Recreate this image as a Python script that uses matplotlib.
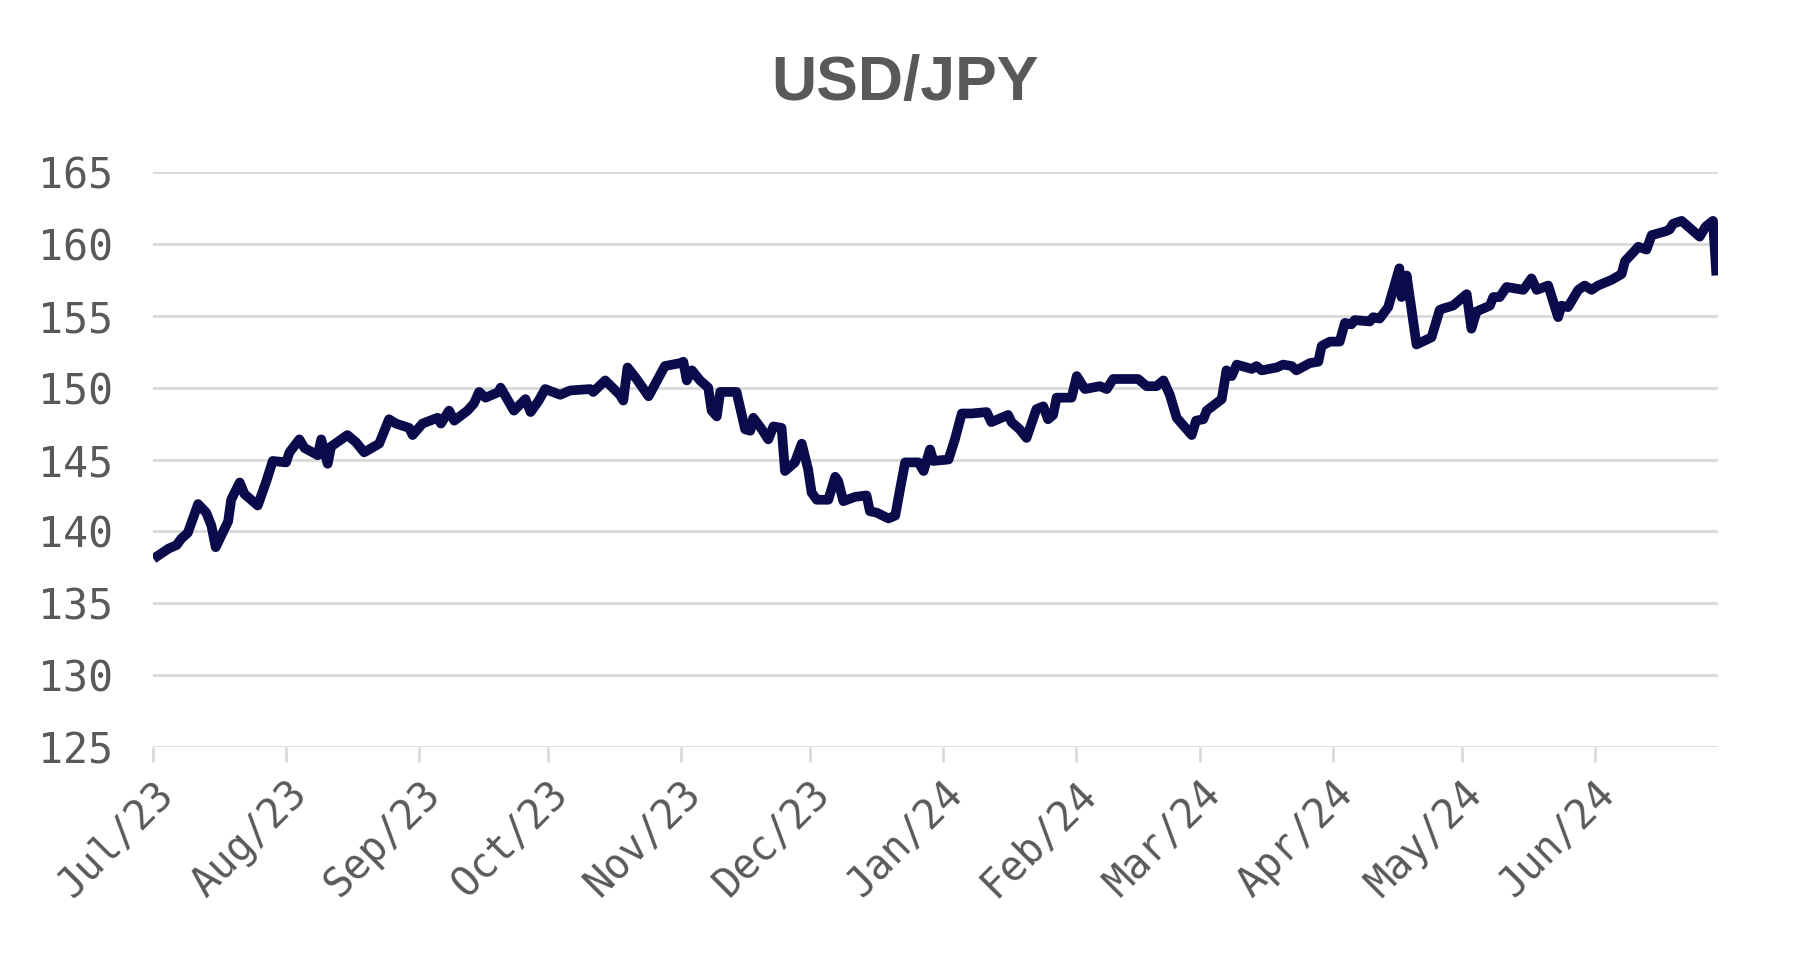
import pandas as pd
import matplotlib
matplotlib.use("Agg")
import matplotlib.pyplot as plt
import matplotlib.dates as mdates

# days since 1 Jul 2023
days = [
    0, 3.5, 5.4, 6.5, 8.0, 10.4, 12.3, 13.5, 14.5, 17.4, 18.1, 20.1, 21.2, 24.3,
    26.2, 27.8, 30.9, 31.7, 34.0, 35.2, 38.3, 39.1, 40.6, 41.4, 45.2, 47.2, 49.1,
    52.6, 54.9, 56.5, 59.6, 60.4, 62.7, 66.2, 67.0, 68.9, 70.1, 73.2, 74.7, 75.9,
    77.4, 80.5, 80.9, 84.0, 86.7, 87.9, 89.8,
    91.3, 94.8, 97.1, 101.8, 102.5, 105.3, 108.7, 109.5, 110.5, 112.6, 115.4,
    119.2, 122.7, 123.5, 124.3, 125.5, 127.4, 129.3, 130.1, 131.3, 132.1, 135.9,
    137.9, 139.1, 139.8, 141.8, 143.3, 144.5, 146.4, 147.2, 149.5, 151.1, 152.6,
    153.4, 154.6, 157.3, 158.9, 159.6, 160.8, 163.5, 166.2, 167.0, 168.6, 171.3,
    172.9, 174.0, 175.2, 178.3, 179.5, 181.0, 181.8, 185.3, 186.8,
    188.4, 190.7, 194.2, 195.3, 199.2, 200.0, 201.9, 203.5, 205.8, 207.4, 208.5,
    209.7, 210.5, 214.0, 215.2, 217.1, 220.6, 222.2, 223.7, 229.5, 231.5, 233.8,
    235.4, 236.9, 238.5, 242.0, 243.0, 244.7, 245.5, 249.0, 250.1, 251.3, 252.5,
    256.0, 257.1, 258.3, 261.8, 263.3, 265.3, 266.4, 269.5, 271.5, 272.3, 274.2,
    276.5,
    277.7, 279.2, 280.0, 283.5, 284.3, 285.8, 287.8, 290.4, 290.9, 292.1, 294.4,
    297.9, 299.8, 300.6, 302.9, 304.5, 306.1, 307.2, 308.4, 311.5, 312.3, 313.8,
    315.4, 319.3, 321.2, 322.4, 325.1, 327.4, 328.2, 329.7, 332.1, 333.6, 335.2,
    336.7, 339.9, 342.2, 343.0, 344.9, 346.1, 348.0, 349.2, 352.7, 353.4, 354.2,
    356.2, 360.4, 361.8, 363.5, 364.3,
]

usdjpy = [
    138.1, 138.8, 139.05, 139.5, 139.9, 141.9, 141.3, 140.4, 138.9, 140.7, 142.2,
    143.4, 142.6, 141.8, 143.4, 144.9, 144.8, 145.5, 146.4, 145.8, 145.3, 146.4,
    144.7, 145.9, 146.7, 146.2, 145.5, 146.1, 147.8, 147.5, 147.2, 146.7, 147.5,
    147.9, 147.5, 148.4, 147.7, 148.4, 148.9, 149.7, 149.3, 149.7, 150.0, 148.4,
    149.2, 148.3, 149.1,
    149.9, 149.5, 149.8, 149.9, 149.7, 150.5, 149.5, 149.1, 151.4, 150.6, 149.4,
    151.5, 151.7, 151.8, 150.5, 151.2, 150.5, 150.0, 148.4, 148.0, 149.7, 149.7,
    147.1, 147.0, 147.9, 147.1, 146.4, 147.3, 147.2, 144.2, 144.8, 146.1, 144.3,
    142.7, 142.2, 142.2, 143.8, 143.5, 142.1, 142.4, 142.5, 141.4, 141.3, 140.9,
    141.1, 142.9, 144.8, 144.8, 144.2, 145.7, 144.9, 145.0, 146.4,
    148.2, 148.2, 148.3, 147.6, 148.1, 147.6, 147.1, 146.5, 148.5, 148.7, 147.8,
    148.1, 149.3, 149.3, 150.8, 149.9, 150.1, 149.9, 150.6, 150.6, 150.1, 150.1,
    150.5, 149.5, 147.9, 146.7, 147.7, 147.8, 148.4, 149.2, 151.2, 150.8, 151.6,
    151.3, 151.5, 151.2, 151.4, 151.6, 151.5, 151.2, 151.7, 151.8, 152.9, 153.2,
    153.2,
    154.5, 154.4, 154.7, 154.6, 154.9, 154.8, 155.6, 158.3, 156.3, 157.8, 153.0,
    153.5, 155.4, 155.5, 155.7, 156.1, 156.5, 154.1, 155.3, 155.7, 156.3, 156.3,
    157.0, 156.8, 157.6, 156.8, 157.1, 154.9, 155.7, 155.6, 156.8, 157.1, 156.8,
    157.1, 157.5, 157.9, 158.8, 159.4, 159.8, 159.6, 160.6, 160.9, 161.0, 161.4,
    161.6, 160.5, 161.2, 161.6, 157.8,
]

yticks = [125, 130, 135, 140, 145, 150, 155, 160, 165]

start = pd.Timestamp("2023-07-01")
x = mdates.date2num(start) + pd.Series(days).to_numpy()

TEXT = "#595959"
LINE = "#0b0b4b"
GRID = "#d9d9d9"

fig = plt.figure(figsize=(18.1, 9.57), dpi=100)
ax = fig.add_axes([0.0848, 0.2194, 0.8642, 0.6009])

ax.plot(x, usdjpy, color=LINE, linewidth=7, solid_joinstyle="round",
        solid_capstyle="butt", zorder=3)

ax.set_ylim(125, 165)
ax.set_yticks(yticks)
ax.set_xlim(mdates.date2num(start), mdates.date2num(start) + 364.6)
ax.xaxis.set_major_locator(mdates.MonthLocator())
ax.xaxis.set_major_formatter(mdates.DateFormatter("%b/%y"))

ax.grid(axis="y", color=GRID, linewidth=2, zorder=0)
ax.grid(axis="x", visible=False)
for s in ax.spines.values():
    s.set_visible(False)

mono = ["DejaVu Sans Mono"]
ax.tick_params(axis="y", length=0, pad=29, labelsize=30, labelcolor=TEXT)
ax.tick_params(axis="x", length=11, width=2, color=GRID, pad=8,
               labelsize=29, labelcolor=TEXT)
for lbl in ax.get_yticklabels():
    lbl.set_family(mono)
for lbl in ax.get_xticklabels():
    lbl.set_family(mono)
    lbl.set_rotation(45)
    lbl.set_ha("right")
    lbl.set_va("top")
    lbl.set_rotation_mode("anchor")

fig.text(0.5, 0.913, "USD/JPY", ha="center", va="center", fontsize=45,
         fontweight="bold", color=TEXT, family=["Liberation Sans"])

fig.savefig("out.png", dpi=100, facecolor="white")
